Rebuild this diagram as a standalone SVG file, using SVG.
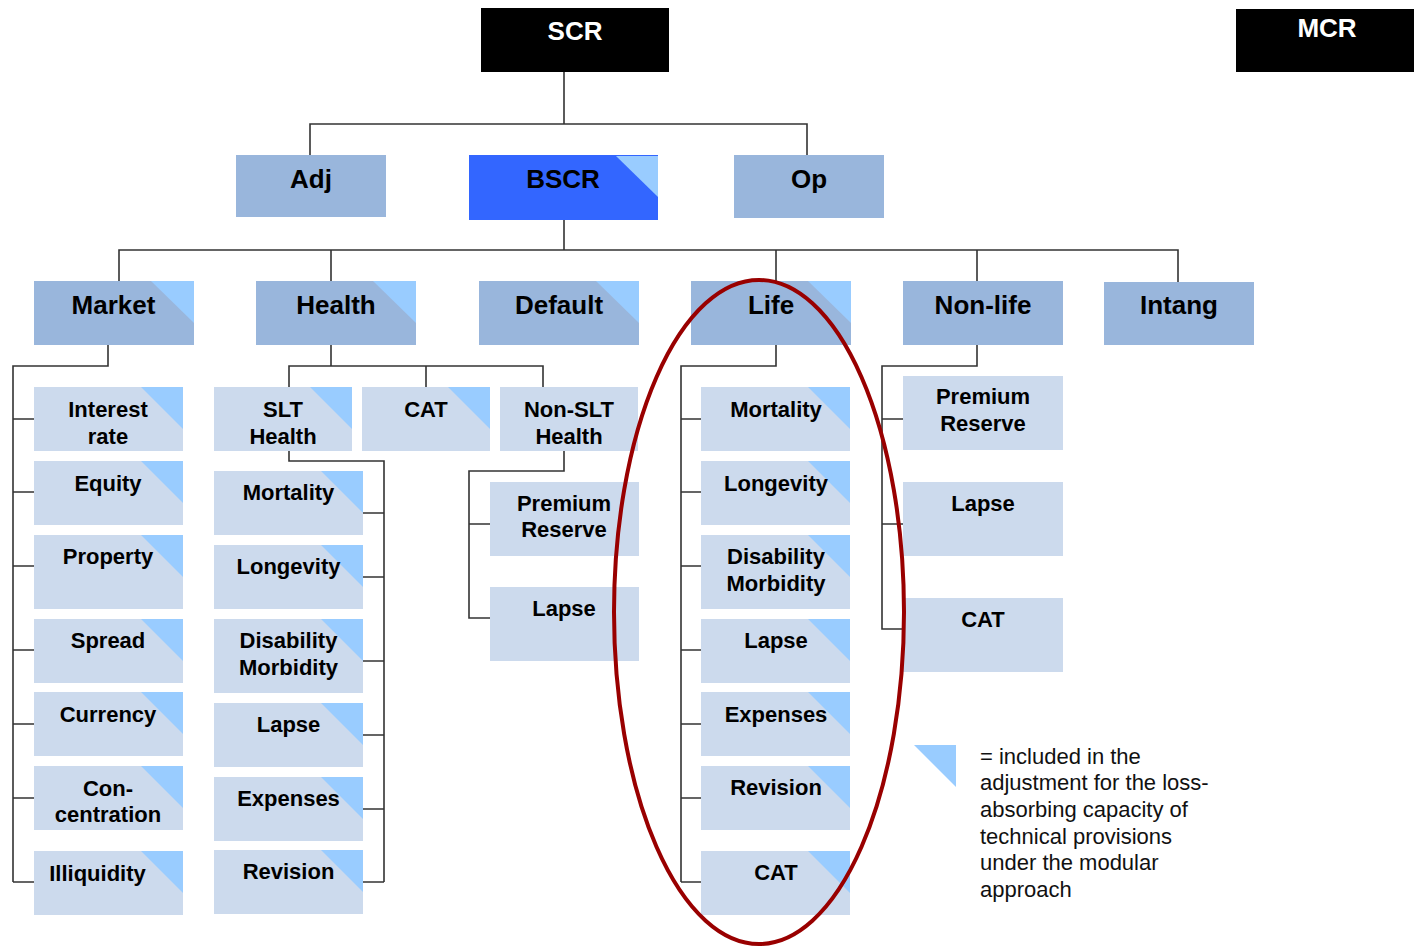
<svg xmlns="http://www.w3.org/2000/svg" width="1414" height="947" viewBox="0 0 1414 947">
<style>
text{font-family:"Liberation Sans",Arial,sans-serif;font-weight:bold;fill:#000;text-anchor:middle}
.top{fill:#000}
.toptx{fill:#fff;font-size:26px}
.l1{fill:#99B6DC}
.bscr{fill:#3366FF}
.l3{fill:#CCDAED}
.tri{fill:#99CCFF}
.t2{font-size:26px}
.t3{font-size:22px}
.con{fill:none;stroke:#333;stroke-width:1.6}
.leg{font-weight:normal;font-size:22px;text-anchor:start;fill:#111}
</style>

<g id="connectors">
<path class="con" d="M564,72V124M310,155V124H807V155M564,220V250M119,281V250H1178V282M331,250V281M776,250V281M977,250V281"/>
<path class="con" d="M108,345V366H13V882M13,419H34M13,492H34M13,566H34M13,650H34M13,724H34M13,798H34M13,882H34"/>
<path class="con" d="M331,345V366M289,387V366H543V387M426,366V387"/>
<path class="con" d="M289,451V461H384V882M363,513H384M363,577H384M363,661H384M363,735H384M363,809H384M363,882H384"/>
<path class="con" d="M564,451V471H469V618H490M469,524H490"/>
<path class="con" d="M776,345V366H681V882M681,419H701M681,492H701M681,566H701M681,650H701M681,724H701M681,798H701M681,882H701"/>
<path class="con" d="M977,345V366H882V629H903M882,419H903M882,524H903"/>
</g>

<g id="scr"><rect class="top" x="481" y="8" width="188" height="64"/><text class="toptx" x="575" y="40">SCR</text></g>
<g id="mcr"><rect class="top" x="1236" y="9" width="178" height="63"/><text class="toptx" x="1327" y="37">MCR</text></g>

<g id="adj"><rect class="l1" x="236" y="155" width="150" height="62"/><text class="t2" x="311" y="188">Adj</text></g>
<g id="bscr"><rect class="bscr" x="469" y="155" width="189" height="65"/><polygon class="tri" points="616,156 658,156 658,197"/><text class="t2" x="563" y="188">BSCR</text></g>
<g id="op"><rect class="l1" x="734" y="155" width="150" height="63"/><text class="t2" x="809" y="188">Op</text></g>

<g id="market"><rect class="l1" x="34" y="281" width="160" height="64"/><polygon class="tri" points="151,281 194,281 194,323"/><text class="t2" x="113.5" y="314">Market</text></g>
<g id="health"><rect class="l1" x="256" y="281" width="160" height="64"/><polygon class="tri" points="373,281 416,281 416,323"/><text class="t2" x="336" y="314">Health</text></g>
<g id="default"><rect class="l1" x="479" y="281" width="160" height="64"/><polygon class="tri" points="596,281 639,281 639,323"/><text class="t2" x="559" y="314">Default</text></g>
<g id="life"><rect class="l1" x="691" y="281" width="160" height="64"/><polygon class="tri" points="808,281 851,281 851,323"/><text class="t2" x="771" y="314">Life</text></g>
<g id="nonlife"><rect class="l1" x="903" y="281" width="160" height="64"/><text class="t2" x="983" y="314">Non-life</text></g>
<g id="intang"><rect class="l1" x="1104" y="282" width="150" height="63"/><text class="t2" x="1179" y="314">Intang</text></g>

<g id="m-interest"><rect class="l3" x="34" y="387" width="149" height="64"/><polygon class="tri" points="141,387 183,387 183,429"/><text class="t3" x="108" y="417">Interest</text><text class="t3" x="108" y="444">rate</text></g>
<g id="m-equity"><rect class="l3" x="34" y="461" width="149" height="64"/><polygon class="tri" points="141,461 183,461 183,503"/><text class="t3" x="108" y="491">Equity</text></g>
<g id="m-property"><rect class="l3" x="34" y="535" width="149" height="74"/><polygon class="tri" points="141,535 183,535 183,577"/><text class="t3" x="108" y="564">Property</text></g>
<g id="m-spread"><rect class="l3" x="34" y="619" width="149" height="64"/><polygon class="tri" points="141,619 183,619 183,661"/><text class="t3" x="108" y="648">Spread</text></g>
<g id="m-currency"><rect class="l3" x="34" y="692" width="149" height="64"/><polygon class="tri" points="141,692 183,692 183,734"/><text class="t3" x="108" y="722">Currency</text></g>
<g id="m-concentration"><rect class="l3" x="34" y="766" width="149" height="64"/><polygon class="tri" points="141,766 183,766 183,808"/><text class="t3" x="108" y="796">Con-</text><text class="t3" x="108" y="822">centration</text></g>
<g id="m-illiquidity"><rect class="l3" x="34" y="851" width="149" height="64"/><polygon class="tri" points="141,851 183,851 183,893"/><text class="t3" x="97.5" y="881">Illiquidity</text></g>

<g id="h-slt"><rect class="l3" x="214" y="387" width="138" height="64"/><polygon class="tri" points="310,387 352,387 352,429"/><text class="t3" x="283" y="417">SLT</text><text class="t3" x="283" y="444">Health</text></g>
<g id="h-cat"><rect class="l3" x="362" y="387" width="128" height="64"/><polygon class="tri" points="448,387 490,387 490,429"/><text class="t3" x="426" y="417">CAT</text></g>
<g id="h-nonslt"><rect class="l3" x="500" y="387" width="138" height="64"/><text class="t3" x="569" y="417">Non-SLT</text><text class="t3" x="569" y="444">Health</text></g>

<g id="hs-mortality"><rect class="l3" x="214" y="471" width="149" height="64"/><polygon class="tri" points="321,471 363,471 363,513"/><text class="t3" x="288.5" y="500">Mortality</text></g>
<g id="hs-longevity"><rect class="l3" x="214" y="545" width="149" height="64"/><polygon class="tri" points="321,545 363,545 363,587"/><text class="t3" x="288.5" y="574">Longevity</text></g>
<g id="hs-disability"><rect class="l3" x="214" y="619" width="149" height="74"/><polygon class="tri" points="321,619 363,619 363,661"/><text class="t3" x="288.5" y="648">Disability</text><text class="t3" x="288.5" y="675">Morbidity</text></g>
<g id="hs-lapse"><rect class="l3" x="214" y="703" width="149" height="64"/><polygon class="tri" points="321,703 363,703 363,745"/><text class="t3" x="288.5" y="732">Lapse</text></g>
<g id="hs-expenses"><rect class="l3" x="214" y="777" width="149" height="64"/><polygon class="tri" points="321,777 363,777 363,819"/><text class="t3" x="288.5" y="806">Expenses</text></g>
<g id="hs-revision"><rect class="l3" x="214" y="850" width="149" height="64"/><polygon class="tri" points="321,850 363,850 363,892"/><text class="t3" x="288.5" y="879">Revision</text></g>

<g id="hn-premium"><rect class="l3" x="490" y="482" width="149" height="74"/><text class="t3" x="564" y="511">Premium</text><text class="t3" x="564" y="537">Reserve</text></g>
<g id="hn-lapse"><rect class="l3" x="490" y="587" width="149" height="74"/><text class="t3" x="564" y="616">Lapse</text></g>

<g id="l-mortality"><rect class="l3" x="701" y="387" width="149" height="64"/><polygon class="tri" points="808,387 850,387 850,429"/><text class="t3" x="776" y="417">Mortality</text></g>
<g id="l-longevity"><rect class="l3" x="701" y="461" width="149" height="64"/><polygon class="tri" points="808,461 850,461 850,503"/><text class="t3" x="776" y="491">Longevity</text></g>
<g id="l-disability"><rect class="l3" x="701" y="535" width="149" height="74"/><polygon class="tri" points="808,535 850,535 850,577"/><text class="t3" x="776" y="564">Disability</text><text class="t3" x="776" y="591">Morbidity</text></g>
<g id="l-lapse"><rect class="l3" x="701" y="619" width="149" height="64"/><polygon class="tri" points="808,619 850,619 850,661"/><text class="t3" x="776" y="648">Lapse</text></g>
<g id="l-expenses"><rect class="l3" x="701" y="692" width="149" height="64"/><polygon class="tri" points="808,692 850,692 850,734"/><text class="t3" x="776" y="722">Expenses</text></g>
<g id="l-revision"><rect class="l3" x="701" y="766" width="149" height="64"/><polygon class="tri" points="808,766 850,766 850,808"/><text class="t3" x="776" y="795">Revision</text></g>
<g id="l-cat"><rect class="l3" x="701" y="851" width="149" height="64"/><polygon class="tri" points="808,851 850,851 850,893"/><text class="t3" x="776" y="880">CAT</text></g>

<g id="nl-premium"><rect class="l3" x="903" y="376" width="160" height="74"/><text class="t3" x="983" y="404">Premium</text><text class="t3" x="983" y="431">Reserve</text></g>
<g id="nl-lapse"><rect class="l3" x="903" y="482" width="160" height="74"/><text class="t3" x="983" y="511">Lapse</text></g>
<g id="nl-cat"><rect class="l3" x="903" y="598" width="160" height="74"/><text class="t3" x="983" y="627">CAT</text></g>

<ellipse id="highlight" cx="759" cy="612" rx="145" ry="332" fill="none" stroke="#990000" stroke-width="4"/>

<g id="legend">
<polygon class="tri" points="914,745 956,745 956,787"/>
<text class="leg" x="980" y="764">= included in the</text>
<text class="leg" x="980" y="790">adjustment for the loss-</text>
<text class="leg" x="980" y="817">absorbing capacity of</text>
<text class="leg" x="980" y="844">technical provisions</text>
<text class="leg" x="980" y="870">under the modular</text>
<text class="leg" x="980" y="897">approach</text>
</g>
</svg>
